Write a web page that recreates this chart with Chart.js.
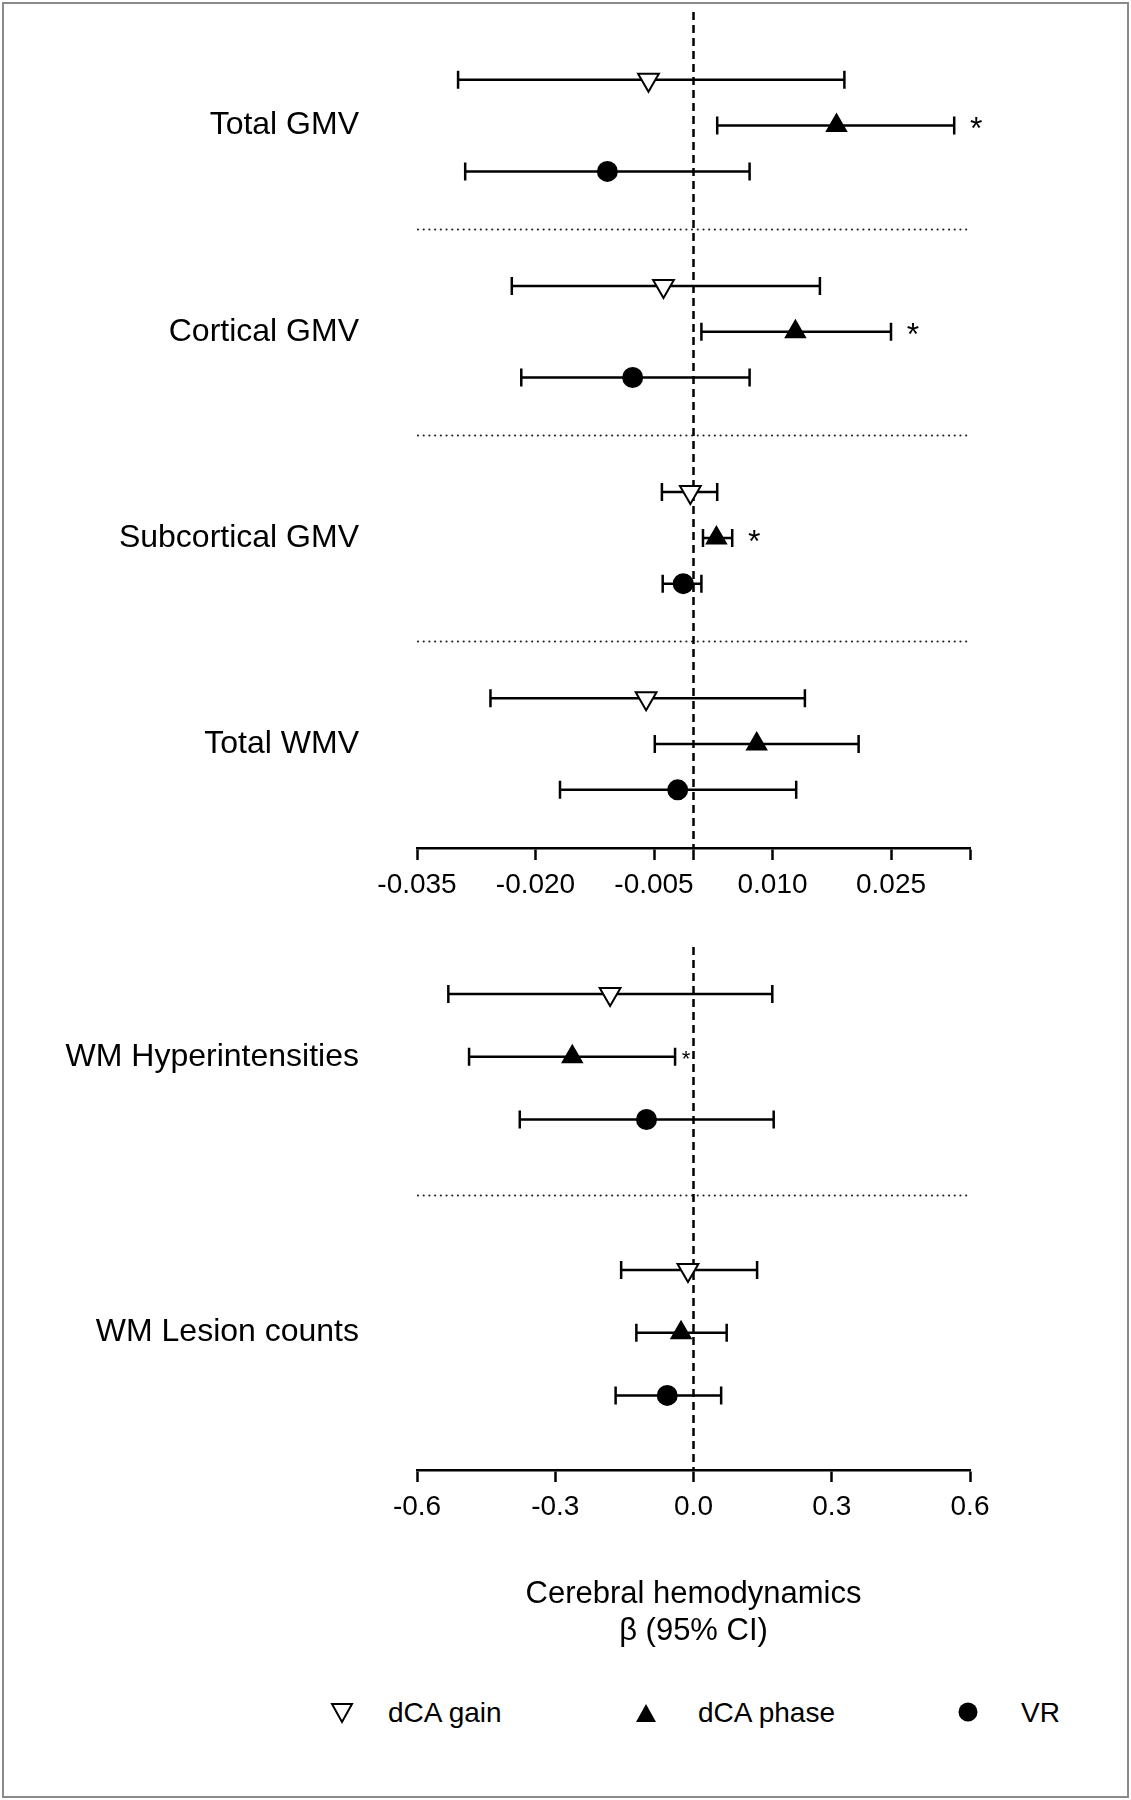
<!DOCTYPE html>
<html>
<head>
<meta charset="utf-8">
<script src="https://cdn.jsdelivr.net/npm/chart.js@4.4.1/dist/chart.umd.min.js"></script>
<style>
  html, body { margin:0; padding:0; background:#fff; }
  body { width:1131px; height:1800px; position:relative; overflow:hidden; font-family:"Liberation Sans", Arial, sans-serif; }
  #frame { position:absolute; left:2px; top:2px; width:1123px; height:1792px; border:2px solid #8a8a8a; }
  .box { position:absolute; left:0; width:1131px; }
  .lt { position:absolute; font-size:28px; line-height:32px; color:#000; white-space:nowrap; }
  .ls { position:absolute; }
</style>
</head>
<body>
<div id="frame"></div>
<div class="box" style="top:0;height:930px;"><canvas id="c1" width="1131" height="930"></canvas></div>
<div class="box" style="top:930px;height:730px;"><canvas id="c2" width="1131" height="730"></canvas></div>

<svg class="ls" style="left:330px;top:1701px" width="24" height="24"><polygon points="2,3 22,3 12,21" fill="#fff" stroke="#000" stroke-width="2"/></svg>
<div class="lt" style="left:388px;top:1697px">dCA gain</div>
<svg class="ls" style="left:634px;top:1701px" width="24" height="24"><polygon points="12,3 22,21 2,21" fill="#000"/></svg>
<div class="lt" style="left:698px;top:1697px">dCA phase</div>
<svg class="ls" style="left:956px;top:1700px" width="24" height="24"><circle cx="12" cy="12" r="9.5" fill="#000"/></svg>
<div class="lt" style="left:1021px;top:1697px">VR</div>

<script>
// ---------- DATA ----------
const topGroups = ['Total GMV', 'Cortical GMV', 'Subcortical GMV', 'Total WMV'];
const topGain   = [-0.0057, -0.0038, -0.0004, -0.0060];
const topGainLo = [-0.0298, -0.0230, -0.0040, -0.0257];
const topGainHi = [ 0.0191,  0.0160,  0.0030,  0.0141];
const topPhase   = [0.0181, 0.0129, 0.0029, 0.0080];
const topPhaseLo = [0.0030, 0.0010, 0.0012, -0.0049];
const topPhaseHi = [0.0330, 0.0250, 0.0049, 0.0209];
const topVR   = [-0.0109, -0.0077, -0.0013, -0.0020];
const topVRLo = [-0.0289, -0.0218, -0.0039, -0.0169];
const topVRHi = [ 0.0071,  0.0071,  0.0010,  0.0130];
const topPhaseSig = [true, true, true, false];
const topTickValues = [-0.035, -0.020, -0.005, 0, 0.010, 0.025, 0.035];
const topTickLabels = ['-0.035', '-0.020', '-0.005', '', '0.010', '0.025', ''];

const botGroups = ['WM Hyperintensities', 'WM Lesion counts'];
const botGain   = [-0.181, -0.012];
const botGainLo = [-0.532, -0.157];
const botGainHi = [ 0.171,  0.138];
const botPhase   = [-0.263, -0.027];
const botPhaseLo = [-0.487, -0.124];
const botPhaseHi = [-0.040,  0.072];
const botVR   = [-0.102, -0.057];
const botVRLo = [-0.377, -0.169];
const botVRHi = [ 0.174,  0.060];
const botPhaseSig = [true, false];
const botTickValues = [-0.6, -0.3, 0, 0.3, 0.6];
const botTickLabels = ['-0.6', '-0.3', '0.0', '0.3', '0.6'];

const axisTitle = ['Cerebral hemodynamics', 'β (95% CI)'];

// ---------- BUILD ----------
const FONT = '"Liberation Sans", Arial, sans-serif';
Chart.defaults.font.family = FONT;
Chart.defaults.color = '#000';

const forestPlugin = {
  id: 'forest',
  beforeDatasetsDraw(chart, args, opts) {
    const {ctx, chartArea, scales: {x, y}} = chart;
    ctx.save();
    ctx.strokeStyle = '#222'; ctx.lineWidth = 2.2; ctx.lineCap = 'round';
    ctx.setLineDash([0.01, 5.7]);
    opts.separators.forEach(v => {
      const py = Math.round(y.getPixelForValue(v)) + 0.5;
      ctx.beginPath(); ctx.moveTo(chartArea.left + 1, py); ctx.lineTo(chartArea.right - 2, py); ctx.stroke();
    });
    ctx.lineCap = 'butt'; ctx.setLineDash([8, 5]); ctx.lineWidth = 2.5; ctx.strokeStyle = '#000';
    const zx = x.getPixelForValue(0);
    ctx.beginPath(); ctx.moveTo(zx, chartArea.top); ctx.lineTo(zx, chartArea.bottom); ctx.stroke();
    ctx.setLineDash([]); ctx.lineWidth = 2.5;
    opts.bars.forEach(b => {
      const py = y.getPixelForValue(b.y);
      const x1 = x.getPixelForValue(b.lo), x2 = x.getPixelForValue(b.hi);
      ctx.beginPath();
      ctx.moveTo(x1, py); ctx.lineTo(x2, py);
      ctx.moveTo(x1, py - 9); ctx.lineTo(x1, py + 9);
      ctx.moveTo(x2, py - 9); ctx.lineTo(x2, py + 9);
      ctx.stroke();
    });
    ctx.restore();
  },
  afterDatasetsDraw(chart, args, opts) {
    const {ctx, scales: {x, y}} = chart;
    ctx.save();
    ctx.fillStyle = '#000'; ctx.textAlign = 'center'; ctx.textBaseline = 'middle';
    opts.stars.forEach(s => {
      ctx.font = s.size + 'px ' + FONT;
      ctx.fillText('*', x.getPixelForValue(s.hi) + s.dx, y.getPixelForValue(s.y) + s.size * 0.15);
    });
    ctx.restore();
  }
};

function buildPanel(canvasId, cfg) {
  const n = cfg.groups.length;
  const step = cfg.groupStep;
  const rowPos = (g, r) => g * step + r;
  const series = [
    {name: 'dCA gain',  v: cfg.gain,  lo: cfg.gainLo,  hi: cfg.gainHi,  r: 0, style: 'triangle', rot: 180, radius: 12, bg: '#fff'},
    {name: 'dCA phase', v: cfg.phase, lo: cfg.phaseLo, hi: cfg.phaseHi, r: 1, style: 'triangle', rot: 0,   radius: 11, bg: '#000'},
    {name: 'VR',        v: cfg.vr,    lo: cfg.vrLo,    hi: cfg.vrHi,    r: 2, style: 'circle',   rot: 0,   radius: 9.5, bg: '#000'}
  ];
  const bars = [];
  series.forEach(s => s.v.forEach((val, g) => bars.push({y: rowPos(g, s.r), lo: s.lo[g], hi: s.hi[g]})));
  const stars = [];
  cfg.sig.forEach((f, g) => { if (f) stars.push({y: rowPos(g, 1), hi: cfg.phaseHi[g], dx: cfg.starDx, size: cfg.starSize}); });
  const separators = [];
  for (let g = 0; g < n - 1; g++) separators.push(g * step + 2 + (step - 2) / 2);
  const groupTicks = cfg.groups.map((_, g) => rowPos(g, 1));

  return new Chart(document.getElementById(canvasId), {
    type: 'scatter',
    data: {
      datasets: series.map(s => ({
        label: s.name,
        data: s.v.map((val, g) => ({x: val, y: rowPos(g, s.r)})),
        pointStyle: s.style,
        rotation: s.rot,
        pointRadius: s.radius,
        pointHoverRadius: s.radius,
        backgroundColor: s.bg,
        borderColor: '#000',
        borderWidth: 2
      }))
    },
    options: {
      responsive: false,
      animation: false,
      devicePixelRatio: 1,
      layout: {padding: cfg.padding, autoPadding: false},
      plugins: {
        legend: {display: false},
        tooltip: {enabled: false},
        forest: {bars, stars, separators}
      },
      scales: {
        x: {
          type: 'linear',
          min: cfg.tickValues[0],
          max: cfg.tickValues[cfg.tickValues.length - 1],
          afterBuildTicks: sc => { sc.ticks = cfg.tickValues.map(v => ({value: v})); },
          afterFit: sc => { sc.height = cfg.xHeight; },
          grid: {drawOnChartArea: false, drawTicks: true, tickLength: 12, tickWidth: 2.5, tickColor: '#000'},
          border: {display: true, color: '#000', width: 2.5},
          ticks: {
            autoSkip: false, maxRotation: 0, padding: 8, color: '#000',
            font: {size: 28, family: FONT},
            callback: (v, i) => cfg.tickLabels[i]
          },
          title: cfg.title ? {
            display: true, text: cfg.title, color: '#000',
            font: {size: 31, family: FONT, lineHeight: 1.2},
            padding: {top: 0, bottom: 10}
          } : {display: false}
        },
        y: {
          type: 'linear',
          reverse: true,
          min: cfg.yMin,
          max: cfg.yMax,
          afterBuildTicks: sc => { sc.ticks = groupTicks.map(v => ({value: v})); },
          afterFit: sc => { sc.width = 417; sc.paddingTop = 0; sc.paddingBottom = 0; },
          grid: {display: true, drawOnChartArea: false, drawTicks: true, tickLength: 58, tickColor: 'rgba(0,0,0,0)', tickWidth: 0},
          border: {display: false},
          ticks: {
            autoSkip: false, padding: 0, color: '#000',
            font: {size: 32, family: FONT, lineHeight: 0.6},
            callback: (v, i) => cfg.groups[i]
          }
        }
      }
    },
    plugins: [forestPlugin]
  });
}

buildPanel('c1', {
  groups: topGroups, groupStep: 4.5,
  gain: topGain, gainLo: topGainLo, gainHi: topGainHi,
  phase: topPhase, phaseLo: topPhaseLo, phaseHi: topPhaseHi,
  vr: topVR, vrLo: topVRLo, vrHi: topVRHi,
  sig: topPhaseSig, starDx: 22, starSize: 32,
  tickValues: topTickValues, tickLabels: topTickLabels,
  padding: {left: 0, right: 161, top: 12, bottom: 0},
  xHeight: 82,
  yMin: -1.48, yMax: 16.77
});

buildPanel('c2', {
  groups: botGroups, groupStep: 4.4,
  gain: botGain, gainLo: botGainLo, gainHi: botGainHi,
  phase: botPhase, phaseLo: botPhaseLo, phaseHi: botPhaseHi,
  vr: botVR, vrLo: botVRLo, vrHi: botVRHi,
  sig: botPhaseSig, starDx: 11, starSize: 22,
  tickValues: botTickValues, tickLabels: botTickLabels,
  padding: {left: 0, right: 161, top: 17, bottom: 0},
  xHeight: 190,
  title: axisTitle,
  yMin: -0.75, yMax: 7.59
});
</script>
</body>
</html>
